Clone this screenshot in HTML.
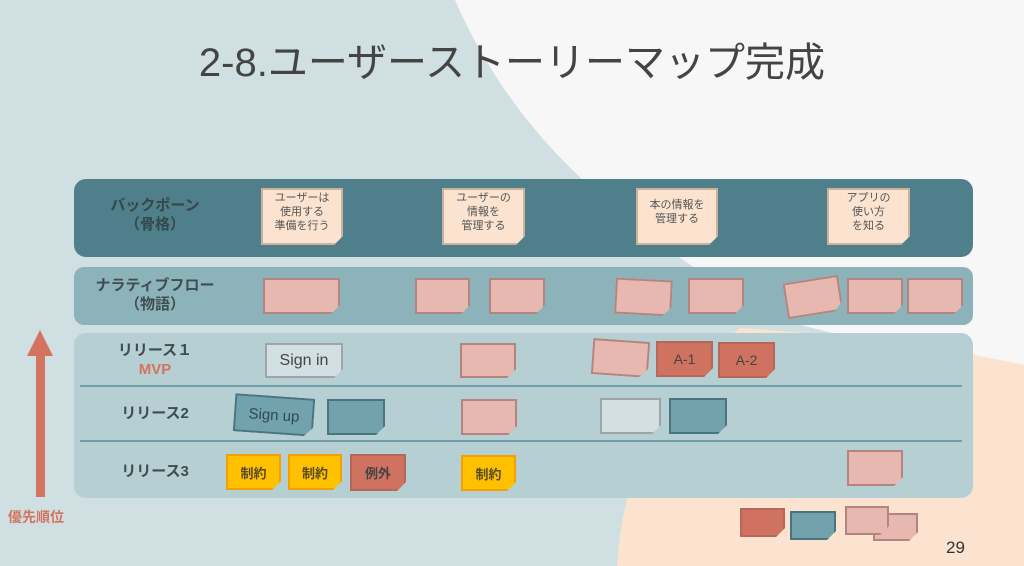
<!DOCTYPE html>
<html><head><meta charset="utf-8"><style>
body{margin:0;width:1024px;height:566px;overflow:hidden;background:#cfdfe2;font-family:"Liberation Sans","Noto Sans CJK JP",sans-serif;position:relative}
.a{position:absolute}
.n{position:absolute;box-sizing:border-box;border:2.5px solid;display:flex;align-items:center;justify-content:center;text-align:center;clip-path:polygon(0 0,100% 0,100% calc(100% - 9px),calc(100% - 9px) 100%,0 100%)}
.bb{background:#fbe3cf;border-color:#c9b39c;color:#555;font-size:11px;line-height:14px;align-items:flex-start;padding-top:1px}
.pk{background:#e6b8b0;border-color:#b48480}
.rd{background:#cf7360;border-color:#b5685a;color:#444;font-size:14px}
.tl{background:#72a2ac;border-color:#4a7580;color:#2f4a50}
.lt{background:#d3e0e3;border-color:#a0a4a6;color:#444}
.yl{background:#ffc000;border-color:#f5a000;color:#5a4a20;font-weight:bold;font-size:13px}
.lab{position:absolute;width:160px;text-align:center;font-weight:bold;color:#3f4d50;font-size:15px;line-height:19px}
</style></head><body>
<svg class="a" style="left:0;top:0" width="1024" height="566">
<path d="M455,0 C520,150 640,240 780,320 L1024,380 L1024,0 Z" fill="#f7f7f7"/>
<path d="M740,328 Q900,338 1024,365 L1024,566 L617,566 Q625,420 740,328 Z" fill="#fbe3cf"/>
<rect x="36" y="352" width="9" height="145" fill="#d4735f"/>
<polygon points="40,330 27,356 53,356" fill="#d4735f"/>
</svg>
<div class="a" style="left:0;top:30px;width:1024px;text-align:center;font-size:40px;color:#444">2-8.ユーザーストーリーマップ完成</div>
<div class="a" style="left:74px;top:179px;width:899px;height:78px;background:#4f7f8a;border-radius:12px"></div>
<div class="a" style="left:74px;top:267px;width:899px;height:58px;background:#8db3ba;border-radius:10px"></div>
<div class="a" style="left:74px;top:333px;width:899px;height:165px;background:#b5cfd3;border-radius:12px"></div>
<div class="a" style="left:80px;top:385px;width:882px;height:2px;background:#6f9ea8"></div>
<div class="a" style="left:80px;top:440px;width:882px;height:2px;background:#6f9ea8"></div>
<div class="lab" style="left:75px;top:196px;color:#34484c">バックポーン<br>（骨格）</div>
<div class="lab" style="left:75px;top:276px">ナラティブフロー<br>（物語）</div>
<div class="lab" style="left:75px;top:341px">リリース１<br><span style="color:#d4735f">MVP</span></div>
<div class="lab" style="left:75px;top:404px">リリース2</div>
<div class="lab" style="left:75px;top:462px">リリース3</div>
<div class="a" style="left:8px;top:507px;font-size:14px;font-weight:bold;color:#d4735f">優先順位</div>

<div class="n bb" style="left:261px;top:188px;width:82px;height:57px">ユーザーは<br>使用する<br>準備を行う</div>
<div class="n bb" style="left:442px;top:188px;width:83px;height:57px">ユーザーの<br>情報を<br>管理する</div>
<div class="n bb" style="left:636px;top:188px;width:82px;height:57px;padding-top:8px">本の情報を<br>管理する</div>
<div class="n bb" style="left:827px;top:188px;width:83px;height:57px">アプリの<br>使い方<br>を知る</div>

<div class="n pk" style="left:263px;top:278px;width:77px;height:36px"></div>
<div class="n pk" style="left:415px;top:278px;width:55px;height:36px"></div>
<div class="n pk" style="left:489px;top:278px;width:56px;height:36px"></div>
<div class="n pk" style="left:615px;top:279px;width:57px;height:36px;transform:rotate(3deg)"></div>
<div class="n pk" style="left:688px;top:278px;width:56px;height:36px"></div>
<div class="n pk" style="left:785px;top:279px;width:56px;height:36px;transform:rotate(-9deg)"></div>
<div class="n pk" style="left:847px;top:278px;width:56px;height:36px"></div>
<div class="n pk" style="left:907px;top:278px;width:56px;height:36px"></div>

<div class="n lt" style="left:265px;top:343px;width:78px;height:35px;font-size:16px">Sign in</div>
<div class="n pk" style="left:460px;top:343px;width:56px;height:35px"></div>
<div class="n pk" style="left:592px;top:340px;width:57px;height:36px;transform:rotate(4deg)"></div>
<div class="n rd" style="left:656px;top:341px;width:57px;height:36px">A-1</div>
<div class="n rd" style="left:718px;top:342px;width:57px;height:36px">A-2</div>

<div class="n tl" style="left:234px;top:396px;width:80px;height:38px;transform:rotate(4deg);font-size:15px">Sign up</div>
<div class="n tl" style="left:327px;top:399px;width:58px;height:36px"></div>
<div class="n pk" style="left:461px;top:399px;width:56px;height:36px"></div>
<div class="n lt" style="left:600px;top:398px;width:61px;height:36px"></div>
<div class="n tl" style="left:669px;top:398px;width:58px;height:36px"></div>

<div class="n yl" style="left:226px;top:454px;width:55px;height:36px">制約</div>
<div class="n yl" style="left:288px;top:454px;width:54px;height:36px">制約</div>
<div class="n rd" style="left:350px;top:454px;width:56px;height:37px;font-weight:bold;font-size:13px">例外</div>
<div class="n yl" style="left:461px;top:455px;width:55px;height:36px">制約</div>
<div class="n pk" style="left:847px;top:450px;width:56px;height:36px"></div>

<div class="n rd" style="left:740px;top:508px;width:45px;height:29px"></div>
<div class="n tl" style="left:790px;top:511px;width:46px;height:29px"></div>
<div class="n pk" style="left:873px;top:513px;width:45px;height:28px"></div>
<div class="n pk" style="left:845px;top:506px;width:44px;height:29px"></div>
<div class="a" style="left:946px;top:538px;font-size:17px;color:#333">29</div>
</body></html>
